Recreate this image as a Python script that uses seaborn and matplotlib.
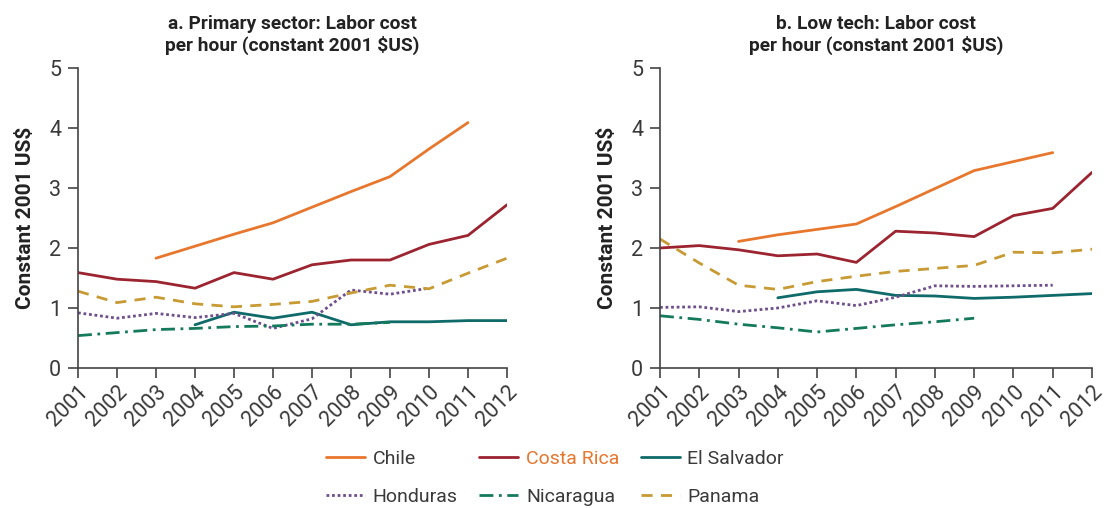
import numpy as np
import pandas as pd
import matplotlib
matplotlib.use("Agg")
import matplotlib.pyplot as plt
import seaborn as sns

sns.set_style("ticks")
plt.rcParams['font.family'] = ['Roboto', 'DejaVu Sans']

years = list(range(2001, 2013))
countries = ["Chile", "Costa Rica", "El Salvador", "Honduras", "Nicaragua", "Panama"]
nan = np.nan

# a. Primary sector
prim_chile = [nan, nan, 1.83, 2.03, 2.23, 2.42, 2.68, 2.94, 3.19, 3.65, 4.09, nan]
prim_costa = [1.59, 1.48, 1.44, 1.33, 1.59, 1.48, 1.72, 1.80, 1.80, 2.06, 2.21, 2.72]
prim_salv = [nan, nan, nan, 0.72, 0.93, 0.83, 0.93, 0.72, 0.77, 0.77, 0.79, 0.79]
prim_hond = [0.92, 0.83, 0.91, 0.84, 0.91, 0.66, 0.82, 1.30, 1.23, 1.33, nan, nan]
prim_nica = [0.54, 0.59, 0.64, 0.66, 0.69, 0.70, 0.73, 0.73, 0.76, nan, nan, nan]
prim_pana = [1.28, 1.09, 1.18, 1.07, 1.02, 1.06, 1.11, 1.25, 1.38, 1.32, 1.58, 1.83]

# b. Low tech
low_chile = [nan, nan, 2.11, 2.22, 2.31, 2.40, 2.69, 2.99, 3.29, 3.44, 3.59, nan]
low_costa = [2.00, 2.04, 1.97, 1.87, 1.90, 1.76, 2.28, 2.25, 2.19, 2.54, 2.66, 3.26]
low_salv = [nan, nan, nan, 1.17, 1.27, 1.31, 1.21, 1.20, 1.16, 1.18, 1.21, 1.24]
low_hond = [1.01, 1.02, 0.94, 1.00, 1.12, 1.04, 1.18, 1.37, 1.36, 1.37, 1.38, nan]
low_nica = [0.87, 0.81, 0.73, 0.67, 0.60, 0.66, 0.72, 0.77, 0.83, nan, nan, nan]
low_pana = [2.15, 1.75, 1.38, 1.31, 1.44, 1.53, 1.61, 1.66, 1.71, 1.93, 1.92, 1.98]

colors = {"Chile": "#E8772E", "Costa Rica": "#9C2430", "El Salvador": "#0F6A6A",
          "Honduras": "#6E4E8C", "Nicaragua": "#147A5C", "Panama": "#C89A33"}
dashes = {"Chile": "", "Costa Rica": "", "El Salvador": "",
          "Honduras": (1, 1), "Nicaragua": (5, 2, 1, 2), "Panama": (4, 3)}


def make_df(vals):
    rows = []
    for c, v in zip(countries, vals):
        for y, val in zip(years, v):
            if not np.isnan(val):
                rows.append({"year": y, "country": c, "value": val})
    return pd.DataFrame(rows)


df_a = make_df([prim_chile, prim_costa, prim_salv, prim_hond, prim_nica, prim_pana])
df_b = make_df([low_chile, low_costa, low_salv, low_hond, low_nica, low_pana])

fig = plt.figure(figsize=(11.09, 5.08), dpi=100)
ax1 = fig.add_axes([78 / 1109, 1 - 368 / 508, 429 / 1109, 300 / 508])
ax2 = fig.add_axes([660 / 1109, 1 - 368 / 508, 432 / 1109, 300 / 508])

titles = ["a. Primary sector: Labor cost\nper hour (constant 2001 $US)",
          "b. Low tech: Labor cost\nper hour (constant 2001 $US)"]

for ax, df, title in [(ax1, df_a, titles[0]), (ax2, df_b, titles[1])]:
    sns.lineplot(data=df, x="year", y="value", hue="country", style="country",
                 palette=colors, dashes=dashes, hue_order=countries,
                 style_order=countries, linewidth=2, ax=ax, legend=(ax is ax1))
    ax.set_xlim(2001, 2012)
    ax.set_ylim(0, 5)
    ax.set_xticks(years)
    ax.set_xticklabels([str(y) for y in years], rotation=45, ha="right",
                       rotation_mode="anchor", fontsize=15.5, color="#3a3a3a")
    ax.set_yticks(range(0, 6))
    ax.set_yticklabels([str(i) for i in range(0, 6)], fontsize=15.5, color="#3a3a3a")
    ax.tick_params(axis="both", length=7, width=1.2, color="#444444", pad=5)
    ax.tick_params(axis="x", pad=3)
    for s in ["left", "bottom"]:
        ax.spines[s].set_color("#444444")
        ax.spines[s].set_linewidth(1.2)
    sns.despine(ax=ax)
    ax.set_xlabel("")
    ax.set_ylabel("Constant 2001 US$", fontsize=15, fontweight="bold", color="#222222", labelpad=10)
    ax.set_title(title, fontsize=13.8, fontweight="bold", color="#222222", pad=12)

handles, labels = ax1.get_legend_handles_labels()
ax1.get_legend().remove()
hmap = dict(zip(labels, handles))
order = ["Chile", "Honduras", "Costa Rica", "Nicaragua", "El Salvador", "Panama"]
leg = fig.legend([hmap[k] for k in order], order, ncol=3, loc="center",
                 bbox_to_anchor=(555 / 1109, 1 - 478 / 508), frameon=False,
                 fontsize=14, handlelength=2.0, columnspacing=1.1,
                 handletextpad=0.4, labelspacing=1.05)
for t in leg.get_texts():
    t.set_color("#E8772E" if t.get_text() == "Costa Rica" else "#3a3a3a")

fig.savefig("out.png", dpi=100)
